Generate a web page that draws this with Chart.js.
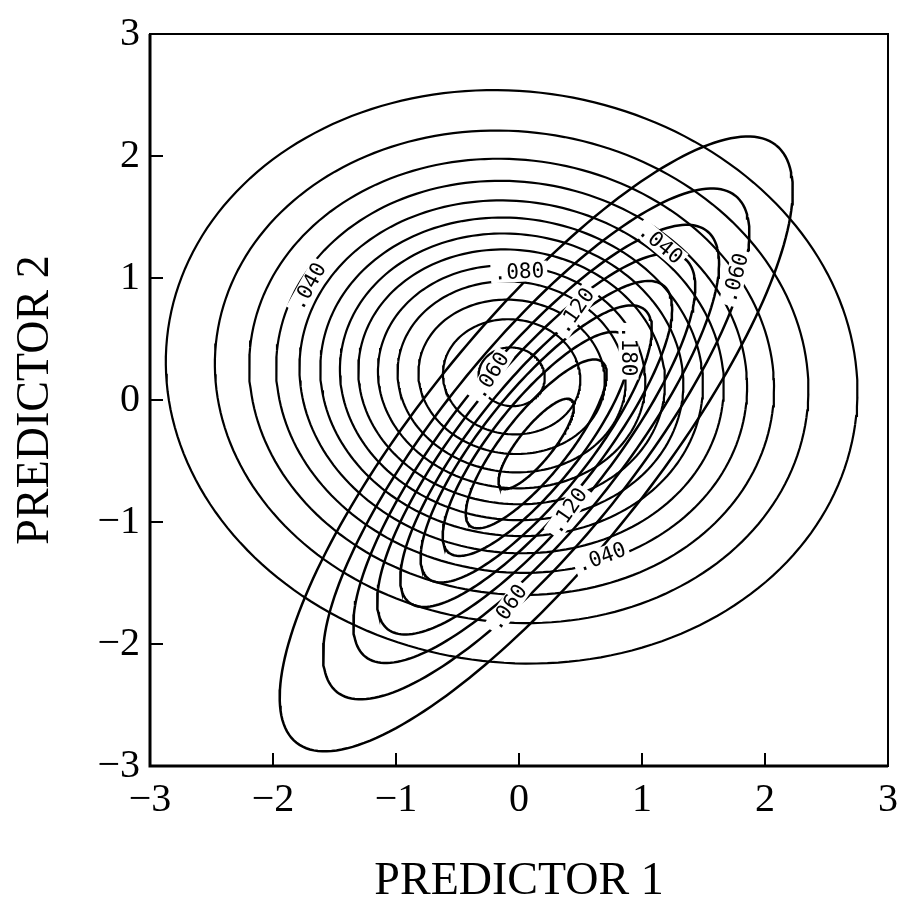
<!DOCTYPE html>
<html>
<head>
<meta charset="utf-8">
<script src="https://cdn.jsdelivr.net/npm/chart.js@4.4.1/dist/chart.umd.min.js"></script>
<style>
  html, body { margin: 0; padding: 0; background: #fff; }
  #wrap { width: 898px; height: 909px; }
</style>
</head>
<body>
<div id="wrap"><canvas id="c" width="898" height="909"></canvas></div>
<script>
// ---- Axis ticks ----
const xTicks = [-3, -2, -1, 0, 1, 2, 3];
const yTicks = [-3, -2, -1, 0, 1, 2, 3];
const xTitle = 'PREDICTOR 1';
const yTitle = 'PREDICTOR 2';

// ---- Family A: near-circular contours ----
const roundCenter = [-0.06, 0.19];
const roundTiltDeg = -8;
const roundRx = [2.82, 2.42, 2.14, 1.92, 1.73, 1.56, 1.40, 1.25, 1.09, 0.93, 0.76, 0.56, 0.27];
const roundRy = [2.34, 2.01, 1.78, 1.60, 1.44, 1.30, 1.17, 1.04, 0.91, 0.78, 0.63, 0.47, 0.24];

// ---- Family B: elongated, tilted contours ----
const longCenter = [0.14, -0.36];
const longTiltDeg = 51.5;
const longA = [3.13, 2.60, 2.23, 1.94, 1.66, 1.41, 1.14, 0.86, 0.46];
const longB = [0.95, 0.79, 0.68, 0.59, 0.50, 0.43, 0.35, 0.26, 0.14];

// ---- Contour labels: text, position (data units), rotation (deg) ----
const labelText = ['.040', '.080', '.120', '.180', '.060', '.040', '.060', '.120', '.040', '.060'];
const labelX    = [-1.71, 0.00, 0.46, 0.89, -0.23, 1.15, 1.76, 0.40, 0.67, -0.09];
const labelY    = [ 0.93, 1.05, 0.73, 0.40,  0.20, 1.28, 1.00, -0.91, -1.29, -1.70];
const labelRot  = [-61, -3, -55, 90, -58, 40, -75, -55, -20, -55];

// build ellipse outline from read parameters
function ellipse(cx, cy, a, b, deg) {
  const t = deg * Math.PI / 180, pts = [];
  const n = 200;
  for (let i = 0; i <= n; i++) {
    const s = 2 * Math.PI * i / n;
    const u = a * Math.cos(s), v = b * Math.sin(s);
    pts.push({ x: cx + u * Math.cos(t) - v * Math.sin(t), y: cy + u * Math.sin(t) + v * Math.cos(t) });
  }
  return pts;
}

const datasets = [];
roundRx.forEach((rx, i) => {
  datasets.push({ data: ellipse(roundCenter[0], roundCenter[1], rx, roundRy[i], roundTiltDeg),
    showLine: true, borderColor: '#000', borderWidth: 2.2, pointRadius: 0, fill: false, tension: 0 });
});
longA.forEach((a, i) => {
  datasets.push({ data: ellipse(longCenter[0], longCenter[1], a, longB[i], longTiltDeg),
    showLine: true, borderColor: '#000', borderWidth: 2.5, pointRadius: 0, fill: false, tension: 0 });
});

const fmt = v => (v < 0 ? '\u2212' + Math.abs(v) : String(v));

const decor = {
  id: 'decor',
  afterDatasetsDraw(chart) {
    const { ctx, chartArea: ca, scales: { x, y } } = chart;
    ctx.save();
    // contour labels
    ctx.font = '21px "DejaVu Sans Mono", "Liberation Mono", monospace';
    ctx.textAlign = 'center';
    ctx.textBaseline = 'middle';
    labelText.forEach((t, i) => {
      const px = x.getPixelForValue(labelX[i]);
      const py = y.getPixelForValue(labelY[i]);
      ctx.save();
      ctx.translate(px, py);
      ctx.rotate(labelRot[i] * Math.PI / 180);
      const w = ctx.measureText(t).width;
      ctx.fillStyle = '#fff';
      ctx.fillRect(-w / 2 - 3, -10, w + 6, 20);
      ctx.fillStyle = '#000';
      ctx.fillText(t, 0, 1);
      ctx.restore();
    });
    // frame
    ctx.strokeStyle = '#000';
    ctx.lineWidth = 2;
    ctx.strokeRect(ca.left, ca.top, ca.right - ca.left, ca.bottom - ca.top);
    ctx.lineWidth = 3;
    ctx.beginPath();
    ctx.moveTo(ca.left, ca.top); ctx.lineTo(ca.left, ca.bottom); ctx.lineTo(ca.right, ca.bottom);
    ctx.stroke();
    // inward ticks
    ctx.lineWidth = 2;
    ctx.beginPath();
    xTicks.forEach(v => {
      const px = x.getPixelForValue(v);
      ctx.moveTo(px, ca.bottom); ctx.lineTo(px, ca.bottom - 13);
    });
    yTicks.forEach(v => {
      const py = y.getPixelForValue(v);
      ctx.moveTo(ca.left, py); ctx.lineTo(ca.left + 13, py);
    });
    ctx.stroke();
    // axis titles
    ctx.fillStyle = '#000';
    ctx.font = '46px "Liberation Serif", "DejaVu Serif", serif';
    ctx.textAlign = 'center';
    ctx.textBaseline = 'middle';
    ctx.fillText(xTitle, x.getPixelForValue(0), 882);
    ctx.save();
    ctx.translate(36, y.getPixelForValue(0));
    ctx.rotate(-Math.PI / 2);
    ctx.fillText(yTitle, 0, 0);
    ctx.restore();
    ctx.restore();
  }
};

new Chart(document.getElementById('c'), {
  type: 'scatter',
  data: { datasets },
  options: {
    responsive: false,
    animation: false,
    devicePixelRatio: 1,
    layout: { padding: { top: 32, right: 0, left: 0, bottom: 0 } },
    plugins: { legend: { display: false }, tooltip: { enabled: false } },
    scales: {
      x: {
        type: 'linear', min: -3, max: 3,
        afterBuildTicks: s => { s.ticks = xTicks.map(v => ({ value: v })); },
        afterFit: s => { s.height = 143; s.paddingRight = 10; },
        grid: { display: false, drawTicks: false },
        border: { display: false },
        ticks: { callback: fmt, color: '#000', padding: 10, maxRotation: 0, autoSkip: false,
                 font: { family: '"Liberation Serif", serif', size: 40 } }
      },
      y: {
        type: 'linear', min: -3, max: 3,
        afterBuildTicks: s => { s.ticks = yTicks.map(v => ({ value: v })); },
        afterFit: s => { s.width = 150; },
        grid: { display: false, drawTicks: false },
        border: { display: false },
        ticks: { callback: fmt, color: '#000', padding: 10, autoSkip: false,
                 font: { family: '"Liberation Serif", serif', size: 40 } }
      }
    }
  },
  plugins: [decor]
});
</script>
</body>
</html>
